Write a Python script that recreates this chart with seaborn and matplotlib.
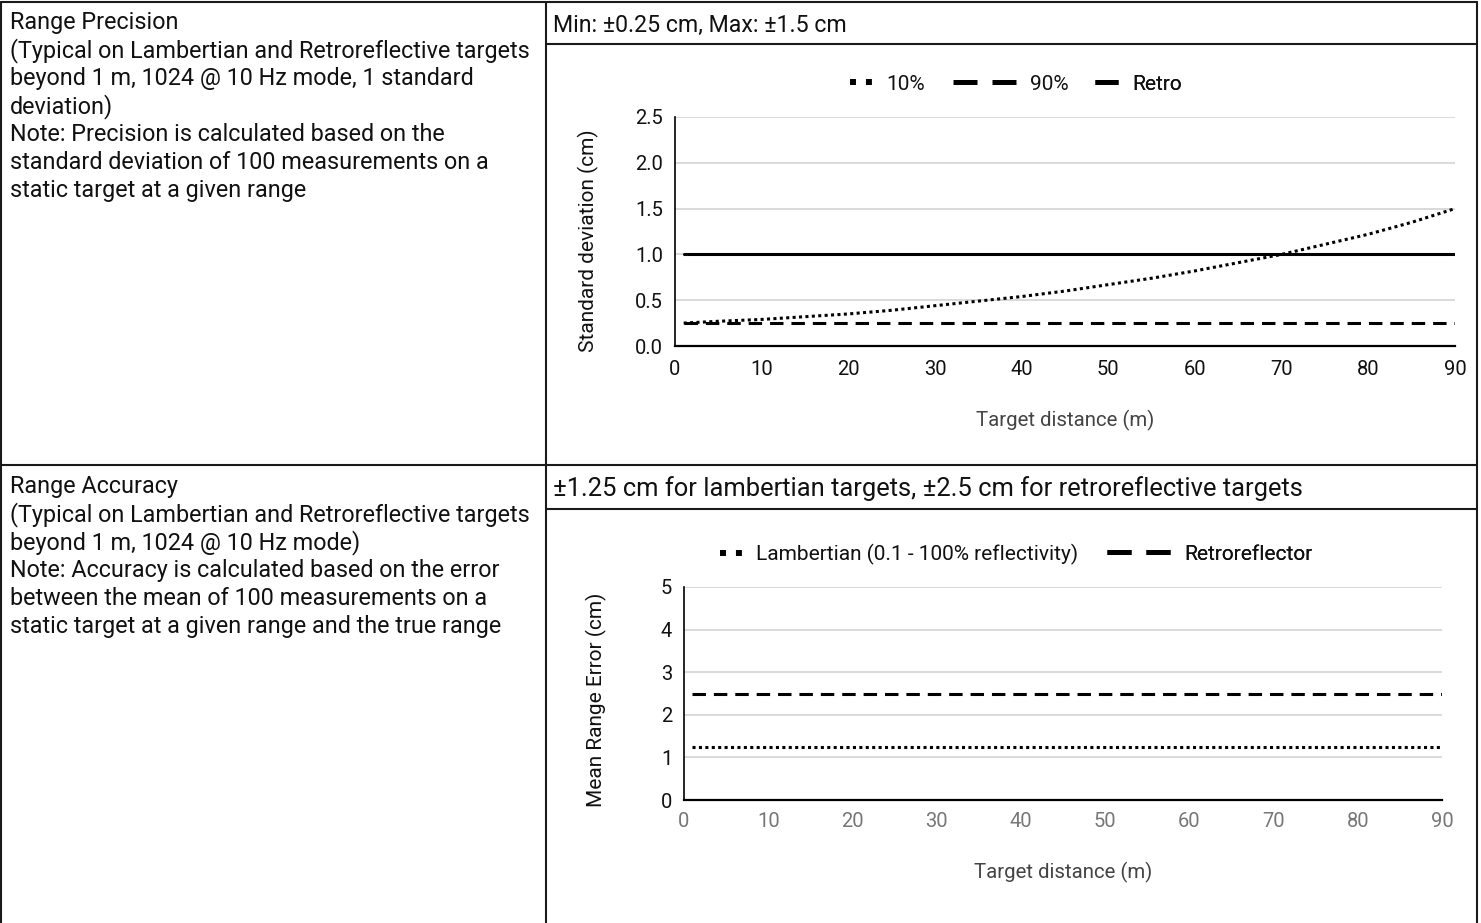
import matplotlib
matplotlib.use("Agg")
import matplotlib.pyplot as plt
from matplotlib.lines import Line2D
import seaborn as sns
import pandas as pd

# ---------------- data ----------------
prec_x = [1, 5, 10, 15, 20, 25, 30, 35, 40, 45, 50, 55, 60, 65, 70, 75, 80, 85, 90]
prec_10 = [0.25, 0.27, 0.29, 0.32, 0.35, 0.39, 0.44, 0.49, 0.54, 0.60, 0.67, 0.74,
           0.82, 0.91, 1.00, 1.11, 1.22, 1.35, 1.50]
prec_90 = [0.25] * len(prec_x)
prec_retro = [1.0] * len(prec_x)
prec_labels = ["10%", "90%", "Retro"]

acc_x = [1, 90]
acc_lamb = [1.25, 1.25]
acc_retro = [2.5, 2.5]
acc_labels = ["Lambertian (0.1 - 100% reflectivity)", "Retroreflector"]

prec_yticks = [0.0, 0.5, 1.0, 1.5, 2.0, 2.5]
acc_yticks = [0, 1, 2, 3, 4, 5]
xticks = [0, 10, 20, 30, 40, 50, 60, 70, 80, 90]

left_top = ["Range Precision",
            "(Typical on Lambertian and Retroreflective targets",
            "beyond 1 m, 1024 @ 10 Hz mode, 1 standard",
            "deviation)",
            "Note: Precision is calculated based on the",
            "standard deviation of 100 measurements on a",
            "static target at a given range"]
left_bot = ["Range Accuracy",
            "(Typical on Lambertian and Retroreflective targets",
            "beyond 1 m, 1024 @ 10 Hz mode)",
            "Note: Accuracy is calculated based on the error",
            "between the mean of 100 measurements on a",
            "static target at a given range and the true range"]
head_top = "Min: \u00b10.25 cm, Max: \u00b11.5 cm"
head_bot = "\u00b11.25 cm for lambertian targets, \u00b12.5 cm for retroreflective targets"

# ---------------- style ----------------
sns.set_theme(style="white")
plt.rcParams["font.family"] = ["Roboto", "DejaVu Sans"]
FS = 14.5      # tick labels / axis labels
FS_LEG = 15.0  # legend
FS_TXT = 16.8  # left column text
W, H = 1481, 923
fig = plt.figure(figsize=(W / 100, H / 100), dpi=100)
fig.patch.set_facecolor("white")


def fx(px):
    return px / W


def fy(py):
    return 1 - py / H


def axes_rect(l, r, t, b):
    return [fx(l), fy(b), fx(r) - fx(l), fy(t) - fy(b)]


# table borders
lc = "#1a1a1a"
lw_tab = 1.5
for (x0, y0, x1, y1) in [(1, 2, 1477, 2), (1, 2, 1, 923), (1477, 2, 1477, 923),
                          (546, 2, 546, 923), (1, 465, 1477, 465),
                          (546, 44, 1477, 44), (546, 509, 1477, 509)]:
    fig.add_artist(Line2D([fx(x0), fx(x1)], [fy(y0), fy(y1)], color=lc,
                          lw=lw_tab, transform=fig.transFigure))

# left column texts
for i, t in enumerate(left_top):
    fig.text(fx(10), fy(29 + i * 28), t, fontsize=FS_TXT, va="baseline", ha="left",
             color="#111111")
for i, t in enumerate(left_bot):
    fig.text(fx(10), fy(493 + i * 28), t, fontsize=FS_TXT, va="baseline", ha="left",
             color="#111111")
fig.text(fx(553), fy(32), head_top, fontsize=16.7, va="baseline", ha="left", color="#111111")
fig.text(fx(553), fy(496), head_bot, fontsize=18.4, va="baseline", ha="left",
         color="#111111")


def style_axes(ax, yticks, ylim, ylabel, xtick_color, xpad):
    ax.set_xlim(0, 90)
    ax.set_ylim(*ylim)
    ax.set_xticks(xticks)
    ax.set_yticks(yticks)
    ax.grid(axis="y", color="#cfcfcf", lw=1.1)
    ax.grid(axis="x", visible=False)
    ax.set_axisbelow(True)
    for s in ["top", "right"]:
        ax.spines[s].set_visible(False)
    ax.spines["left"].set_color("black")
    ax.spines["left"].set_linewidth(1.2)
    ax.spines["bottom"].set_color("black")
    ax.spines["bottom"].set_linewidth(1.6)
    ax.tick_params(axis="both", length=0, labelsize=FS)
    ax.tick_params(axis="y", pad=8.5, labelcolor="#111111")
    ax.tick_params(axis="x", pad=xpad, labelcolor=xtick_color)
    ax.set_xlabel("Target distance (m)", fontsize=FS + 0.2, color="#444444")
    ax.set_ylabel(ylabel, fontsize=15.0, color="#111111")
    ax.set_facecolor("white")


def legend_item(ax, handle, label, x_px, y_px, hl_px):
    em = FS_LEG * 100 / 72
    leg = ax.legend([handle], [label], loc="center left",
                    bbox_to_anchor=(fx(x_px), fy(y_px)), bbox_transform=fig.transFigure,
                    frameon=False, fontsize=FS_LEG, handlelength=hl_px / em,
                    handletextpad=14 / em, borderpad=0, borderaxespad=0,
                    numpoints=1)
    for txt in leg.get_texts():
        txt.set_color("#111111")
    ax.add_artist(leg)


LW = 2.2

# ---------------- chart 1: precision ----------------
ax1 = fig.add_axes(axes_rect(675, 1455, 117, 346))
df1 = pd.DataFrame({"x": prec_x, "p10": prec_10, "p90": prec_90, "retro": prec_retro})
sns.lineplot(data=df1, x="x", y="p10", ax=ax1, color="black", lw=LW)
ax1.lines[-1].set_dashes([1, 1.1])
sns.lineplot(data=df1, x="x", y="p90", ax=ax1, color="black", lw=LW)
ax1.lines[-1].set_dashes([4.4, 2.6])
sns.lineplot(data=df1, x="x", y="retro", ax=ax1, color="black", lw=LW)
style_axes(ax1, prec_yticks, (0, 2.5), "Standard deviation (cm)", "#111111", 9.8)
ax1.set_yticklabels([f"{v:.1f}" for v in prec_yticks])
ax1.xaxis.set_label_coords(0.5, -0.28)
ax1.yaxis.set_label_coords(-0.097, 0.46)

h_dot = Line2D([], [], color="black", lw=4.3, dashes=[1, 1.67], solid_capstyle="butt")
h_dash = Line2D([], [], color="black", lw=3.6, dashes=[4.8, 3.0], solid_capstyle="butt")
h_sol = Line2D([], [], color="black", lw=3.6, solid_capstyle="butt")
legend_item(ax1, h_dot, prec_labels[0], 850, 84, 22)
legend_item(ax1, h_dash, prec_labels[1], 953, 84, 63)
legend_item(ax1, h_sol, prec_labels[2], 1095, 84, 23)

# ---------------- chart 2: accuracy ----------------
ax2 = fig.add_axes(axes_rect(684, 1442, 587, 800))
df2 = pd.DataFrame({"x": acc_x, "lamb": acc_lamb, "retro": acc_retro})
sns.lineplot(data=df2, x="x", y="lamb", ax=ax2, color="black", lw=LW)
ax2.lines[-1].set_dashes([1, 1.1])
sns.lineplot(data=df2, x="x", y="retro", ax=ax2, color="black", lw=LW)
ax2.lines[-1].set_dashes([4.4, 2.6])
style_axes(ax2, acc_yticks, (0, 5), "Mean Range Error (cm)", "#777777", 8.5)
ax2.xaxis.set_label_coords(0.5, -0.29)
ax2.yaxis.set_label_coords(-0.102, 0.47)

legend_item(ax2, h_dot, acc_labels[0], 720, 554, 22)
legend_item(ax2, h_dash, acc_labels[1], 1107, 554, 63)

fig.savefig("out.png", dpi=100, facecolor="white")
